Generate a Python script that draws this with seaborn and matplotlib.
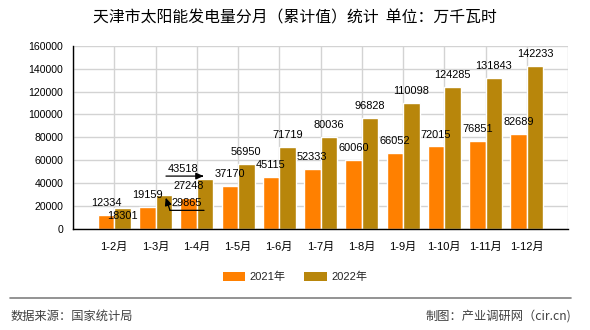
import matplotlib
matplotlib.use("Agg")
import matplotlib.pyplot as plt
import matplotlib.transforms as mtransforms
from matplotlib.patches import Patch
import seaborn as sns
import pandas as pd

# 天津市太阳能发电量分月（累计值），单位：万千瓦时
periods = ["1-2月", "1-3月", "1-4月", "1-5月", "1-6月", "1-7月",
           "1-8月", "1-9月", "1-10月", "1-11月", "1-12月"]
years = ["2021年", "2022年"]
values_2021 = [12334, 19159, 27248, 37170, 45115, 52333,
               60060, 66052, 72015, 76851, 82689]
values_2022 = [18301, 29865, 43518, 56950, 71719, 80036,
               96828, 110098, 124285, 131843, 142233]
y_ticks = [0, 20000, 40000, 60000, 80000, 100000, 120000, 140000, 160000]

colors = ["#FF8000", "#B8860B"]

df = pd.DataFrame({
    "period": periods * 2,
    "year": [years[0]] * len(periods) + [years[1]] * len(periods),
    "value": values_2021 + values_2022,
})

sns.set_style("white")
num_font = ["Liberation Sans", "Noto Sans CJK SC"]
cjk_font = ["Noto Sans CJK SC", "DejaVu Sans"]
plt.rcParams["font.family"] = num_font

fig = plt.figure(figsize=(5.9, 3.3), dpi=100)
ax = fig.add_axes([73 / 590, 1 - 229 / 330, 495 / 590, (229 - 45.7) / 330])

sns.barplot(data=df, x="period", y="value", hue="year", order=periods,
            hue_order=years, palette=colors, width=0.8, saturation=1,
            legend=False, ax=ax, zorder=2)

# axis frame and grid
ax.set_xlim(-1, len(periods))
ax.set_ylim(y_ticks[0], y_ticks[-1])
ax.set_xticks(range(-1, len(periods) + 1))
ax.set_xticklabels([""] + periods + [""], fontsize=8, family=num_font)
ax.set_yticks(y_ticks)
ax.set_yticklabels([str(v) for v in y_ticks], fontsize=7.6, family=num_font)
ax.set_xlabel("")
ax.set_ylabel("")
ax.grid(True, color="#d3d3d3", lw=1)
ax.set_axisbelow(True)
for side in ("top", "right"):
    ax.spines[side].set_visible(False)
for side in ("left", "bottom"):
    ax.spines[side].set_color("black")
    ax.spines[side].set_linewidth(1)
ax.tick_params(axis="both", direction="out", length=4, width=1,
               color="black", labelcolor="black", pad=3)
ax.tick_params(axis="x", pad=5)

# value labels; a few are shifted aside to keep them readable
shifted = {
    (1, 0): (0, -5.5),
    (1, 1): (16.8, -6.1),
    (1, 2): (-16.2, 7.1),
}
series = [values_2021, values_2022]
for s, vals in enumerate(series):
    for i, v in enumerate(vals):
        x = i - 0.2 + 0.4 * s
        dx, dy = shifted.get((s, i), (0, 8.6))
        ax.annotate(str(v), xy=(x, v), xytext=(dx, dy),
                    textcoords="offset points", ha="center", va="center",
                    fontsize=7.9, family=num_font, color="black", zorder=5)

def leader(x, v, start, end, arrow_at_end, head_off=(0, 0)):
    """Underline from start to end (points, relative to the bar top),
    plus an arrow pointing at the bar top."""
    base = mtransforms.offset_copy(ax.transData, fig, x=start[0], y=start[1],
                                   units="points")
    ax.annotate("", xy=(x, v), xycoords=base,
                xytext=(end[0] - start[0], end[1] - start[1]),
                textcoords="offset points",
                arrowprops=dict(arrowstyle="-", color="black", lw=0.9,
                                shrinkA=0, shrinkB=0), zorder=5)
    src = end if arrow_at_end else start
    tip = mtransforms.offset_copy(ax.transData, fig, x=head_off[0],
                                  y=head_off[1], units="points")
    ax.annotate("", xy=(x, v), xycoords=tip,
                xytext=(src[0] - head_off[0], src[1] - head_off[1]),
                textcoords="offset points",
                arrowprops=dict(arrowstyle="-|>,head_length=0.45,head_width=0.2",
                                mutation_scale=10, color="black", lw=0.9,
                                shrinkA=0, shrinkB=0), zorder=5)

leader(1.2, values_2022[1], (4.5, -11.2), (29.0, -11.2), False, (1.4, -2.1))
leader(2.2, values_2022[2], (-28.1, 2.2), (-2.4, 2.2), True, (-1.0, 2.2))

# title
fig.text(0.5, 1 - 18 / 330, "天津市太阳能发电量分月（累计值）统计  单位：万千瓦时",
         ha="center", va="center", fontsize=11.4, fontweight="medium",
         family=cjk_font, color="black")

# legend
handles = [Patch(facecolor=c, edgecolor="none") for c in colors]
fig.legend(handles, years, loc="center", bbox_to_anchor=(0.5, 1 - 277 / 330),
           ncol=2, frameon=False, prop={"family": num_font, "size": 8},
           handlelength=2.0, handleheight=0.8, handletextpad=0.4,
           columnspacing=1.7)

# footer
fig.add_artist(plt.Line2D([10 / 590, 571 / 590], [1 - 298 / 330, 1 - 298 / 330],
                          color="#808080", lw=1.2, transform=fig.transFigure))
fig.text(11 / 590, 1 - 316.5 / 330, "数据来源：国家统计局", ha="left", va="center",
         fontsize=8.8, family=cjk_font, color="#404040")
fig.text(571 / 590, 1 - 316.5 / 330, "制图：产业调研网（cir.cn)", ha="right",
         va="center", fontsize=8.8, family=cjk_font, color="#404040")

fig.savefig("out.png", dpi=100)
